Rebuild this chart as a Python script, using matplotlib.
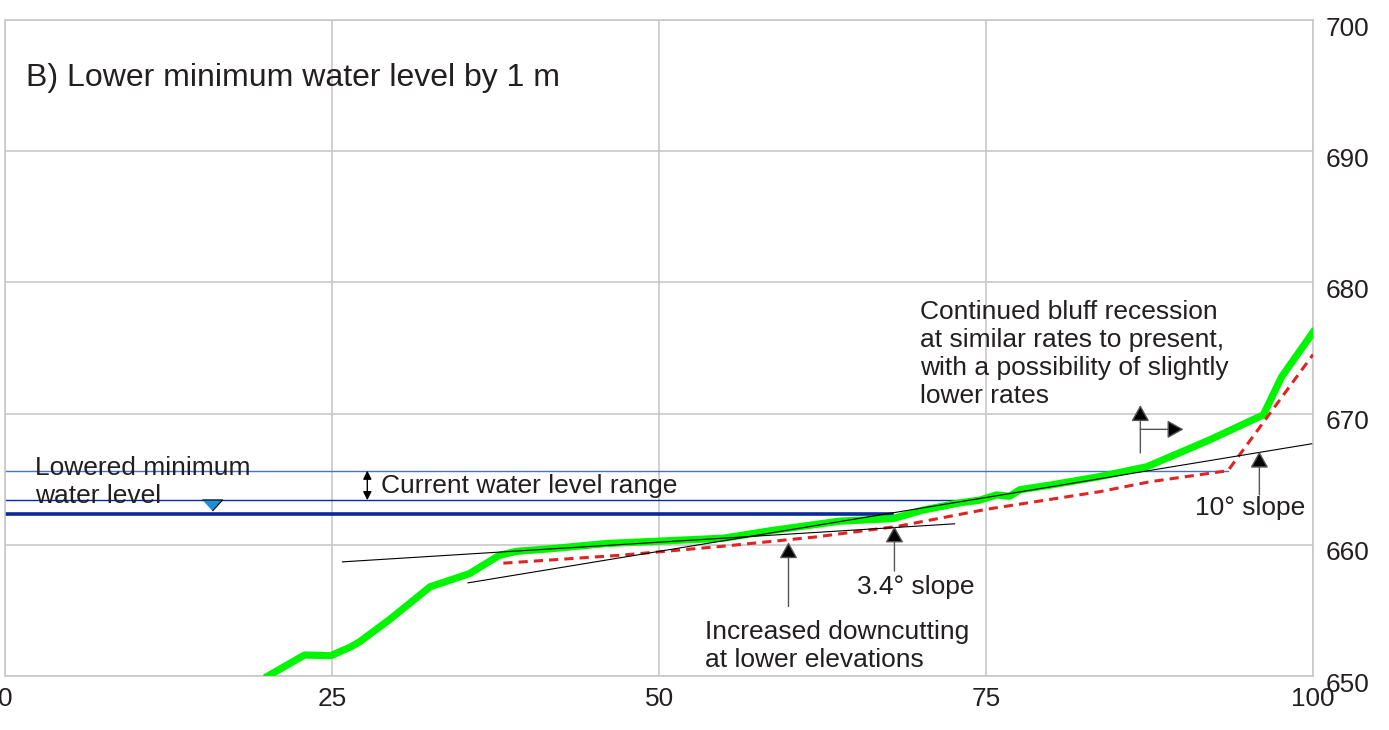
import matplotlib
matplotlib.use("Agg")
import matplotlib.pyplot as plt
import matplotlib.transforms as mtransforms

plt.rcParams['font.family'] = ['Liberation Sans', 'DejaVu Sans']

# ground profile (current), metres along profile vs elevation
profile_x = [20.1, 22.9, 24.9, 26.4, 27.1, 29.4, 32.5, 35.5, 37.8, 39.1, 41.7, 46.0,
             54.9, 58.7, 63.8, 67.9, 70.2, 73.0, 74.5, 75.8, 76.8, 77.6, 79.9, 83.7,
             87.3, 92.1, 96.2, 97.6, 100.0]
profile_y = [650.0, 651.6, 651.55, 652.2, 652.6, 654.3, 656.8, 657.8, 659.2, 659.5, 659.7, 660.1,
             660.5, 661.1, 661.8, 662.0, 662.65, 663.2, 663.4, 663.8, 663.7, 664.2, 664.55, 665.2,
             665.95, 668.0, 669.9, 672.8, 676.2]

# projected profile with lowered water level
future_x = [38.1, 47.0, 55.0, 62.0, 68.2, 75.0, 83.7, 87.5, 93.5, 100.0]
future_y = [658.6, 659.2, 659.9, 660.6, 661.4, 662.7, 664.05, 664.8, 665.65, 674.5]

# slope reference lines
slope_a_x = [25.8, 72.6]
slope_a_y = [658.7, 661.6]
slope_b_x = [35.4, 99.9]
slope_b_y = [657.1, 667.7]

# water levels: (elevation, x end)
max_level = (665.65, 93.5)
current_min_level = (663.4, 73.0)
lowered_min_level = (662.35, 67.8)

x_ticks = [0, 25, 50, 75, 100]
y_ticks = [650, 660, 670, 680, 690, 700]

text_color = '#231f20'
grid_color = '#c8c8c8'
fs = 19.0

fig = plt.figure(figsize=(13.89, 7.30), dpi=100)
ax = fig.add_axes([5 / 1389, 54 / 730, 1308 / 1389, 656 / 730])

ax.set_xlim(0, 100)
ax.set_ylim(650, 700)
ax.set_xticks(x_ticks)
ax.set_yticks(y_ticks)
ax.yaxis.tick_right()
ax.tick_params(length=0, labelsize=18.8, labelcolor=text_color)
ax.tick_params(axis='x', pad=8)
ax.tick_params(axis='y', pad=9)
ax.grid(True, color=grid_color, lw=1.2, zorder=0)
ax.set_axisbelow(True)
for sp in ax.spines.values():
    sp.set_color(grid_color)
    sp.set_linewidth(1.2)

# shift y labels a bit down like in the original
offset = mtransforms.ScaledTranslation(0, -6 / 100, fig.dpi_scale_trans)
for lbl in ax.get_yticklabels():
    lbl.set_transform(lbl.get_transform() + offset)

# water levels
ax.plot([0, max_level[1]], [max_level[0]] * 2, color='#4a72c4', lw=1.0, zorder=2)
ax.plot([0, current_min_level[1]], [current_min_level[0]] * 2, color='#0a2a9a', lw=1.0, zorder=2)
ax.plot([0, lowered_min_level[1]], [lowered_min_level[0]] * 2, color='#0a2a9a', lw=2.6, zorder=2)

# profiles
ax.plot(profile_x, profile_y, color='#00f500', lw=5.2, solid_joinstyle='round', zorder=3)
ax.plot(future_x, future_y, color='#e02424', lw=2.2, dashes=(3, 2), zorder=4)
ax.plot(slope_a_x, slope_a_y, color='black', lw=0.8, zorder=5)
ax.plot(slope_b_x, slope_b_y, color='black', lw=0.8, zorder=5)

# water level symbol
ax.plot([15.8], [663.05], marker=[(-1, 0.55), (1, 0.55), (0, -0.55)], ms=14.5,
        color='#1a90d8', mec='black', mew=0.8, zorder=6)

# arrows
arrow_style = '-|>,head_length=0.5,head_width=0.28'


def up_arrow(x, y0, y1):
    ax.annotate('', xy=(x, y1), xytext=(x, y0),
                arrowprops=dict(arrowstyle=arrow_style, mutation_scale=20, color='#555555',
                                fc='black', ec='#555555', lw=1.0, shrinkA=0, shrinkB=0),
                zorder=6)


up_arrow(68.0, 658.0, 661.4)
up_arrow(59.9, 655.3, 660.2)
up_arrow(95.9, 663.8, 667.1)
up_arrow(86.8, 667.0, 670.65)
ax.annotate('', xy=(90.1, 668.8), xytext=(86.8, 668.8),
            arrowprops=dict(arrowstyle=arrow_style, mutation_scale=20, fc='black',
                            ec='#555555', lw=1.0, shrinkA=0, shrinkB=0), zorder=6)
ax.annotate('', xy=(27.7, 665.65), xytext=(27.7, 663.4),
            arrowprops=dict(arrowstyle='<|-|>,head_length=0.5,head_width=0.25', mutation_scale=10,
                            color='black', lw=1.0, shrinkA=0, shrinkB=0), zorder=6)

# labels
ax.text(1.6, 695.6, 'B) Lower minimum water level by 1 m', fontsize=23, color=text_color,
        va='center', ha='left')
ax.text(2.3, 664.8, 'Lowered minimum\nwater level', fontsize=fs, color=text_color,
        va='center', ha='left', linespacing=1.22)
ax.text(28.75, 664.5, 'Current water level range', fontsize=fs, color=text_color,
        va='center', ha='left')
ax.text(69.95, 674.55, 'Continued bluff recession\nat similar rates to present,\n'
        'with a possibility of slightly\nlower rates', fontsize=fs, color=text_color,
        va='center', ha='left', linespacing=1.2)
ax.text(65.1, 656.8, '3.4° slope', fontsize=fs, color=text_color, va='center', ha='left')
ax.text(53.5, 652.3, 'Increased downcutting\nat lower elevations', fontsize=fs,
        color=text_color, va='center', ha='left', linespacing=1.2)
ax.text(91.0, 662.8, '10° slope', fontsize=fs, color=text_color, va='center', ha='left')

fig.savefig('out.png', dpi=100)
